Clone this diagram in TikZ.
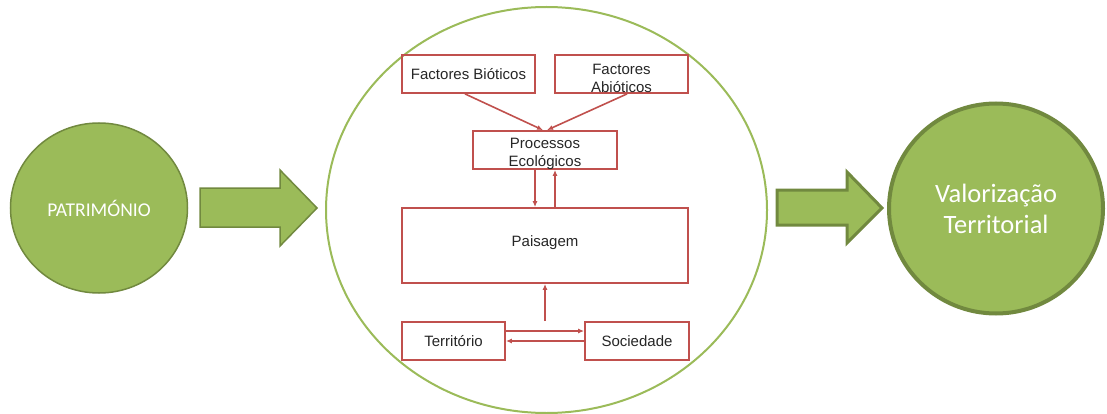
\documentclass[tikz,border=0pt]{standalone}
\usepackage{fontspec}
\setmainfont{Liberation Sans}
\newfontfamily\calib{Carlito}
\usetikzlibrary{arrows.meta}
\definecolor{leaf}{HTML}{9BBB59}
\definecolor{leafdark}{HTML}{71893F}
\definecolor{brick}{HTML}{C0504D}
\tikzset{
  >={Latex[length=6pt,width=5pt]},
}
\tikzstyle{box}=[draw=brick,line width=1.8pt,inner sep=0pt,align=center,
  text=black!85,font=\fontsize{15}{18}\selectfont]
\tikzstyle{link}=[draw=brick,line width=1.6pt,->]
\tikzstyle{blob}=[ellipse,fill=leaf,draw=leafdark,inner sep=0pt,align=center,text=white]
\tikzstyle{bigarrow}=[fill=leaf,draw=leafdark,line join=miter]
\usetikzlibrary{shapes.geometric}

\begin{document}
\begin{tikzpicture}[x=1pt,y=-1pt]
    \useasboundingbox (0,0) rectangle (1107,414);
    % outer ring
    \draw[leaf,line width=2pt] (546.5,210) ellipse (220.5 and 203);
    % left and right discs
    \node[blob,line width=1.5pt,minimum width=177,minimum height=170,
      font=\calib\fontsize{19.5}{24}\selectfont] (patr) at (99,208) {PATRIMÓNIO};
    \node[blob,line width=4pt,minimum width=214,minimum height=210,
      font=\calib\fontsize{26.5}{31}\selectfont] (valor) at (996,208.5) {Valorização\\Territorial};
    % block arrows
    \draw[bigarrow,line width=1.5pt] (200,188)--(280,188)--(280,170)--(317,208)
      --(280,246)--(280,227)--(200,227)--cycle;
    \draw[bigarrow,line width=3pt] (777,190)--(847,190)--(847,172)--(882,208)
      --(847,243)--(847,225)--(777,225)--cycle;
    % boxes
    \node[box,minimum width=133pt,minimum height=38pt] (bio) at (468.5,74) {Factores Bióticos};
    \node[box,minimum width=133pt,minimum height=38pt,
      label={[box,draw=none,yshift=-4pt]center:Factores\\Abióticos}] (abio) at (621.5,74) {};
    \node[box,minimum width=144pt,minimum height=38pt,
      label={[box,draw=none,yshift=-4pt]center:Processos\\Ecológicos}] (proc) at (545,150) {};
    \node[box,minimum width=286pt,minimum height=75pt] (pais) at (545,245.5) {\raisebox{9pt}{Paisagem}};
    \node[box,minimum width=103pt,minimum height=38pt] (terr) at (453.5,341) {Território};
    \node[box,minimum width=104pt,minimum height=38pt] (soc) at (637,341) {Sociedade};
    % links
    \draw[link] ([xshift=-3.5pt]bio.south) -- ([xshift=-2pt]proc.north);
    \draw[link] ([xshift=5.5pt]abio.south) -- ([xshift=2pt]proc.north);
    \draw[link] ([xshift=-10pt]proc.south) -- ([xshift=-10pt]pais.north);
    \draw[link] ([xshift=10pt]pais.north) -- ([xshift=10pt]proc.south);
    \draw[link] (pais.south |- terr.north) -- (pais.south);
    \draw[link] ([yshift=10pt]terr.east) -- ([yshift=10pt]soc.west);
    \draw[link] (soc.west) -- (terr.east);
  \end{tikzpicture}
\end{document}
